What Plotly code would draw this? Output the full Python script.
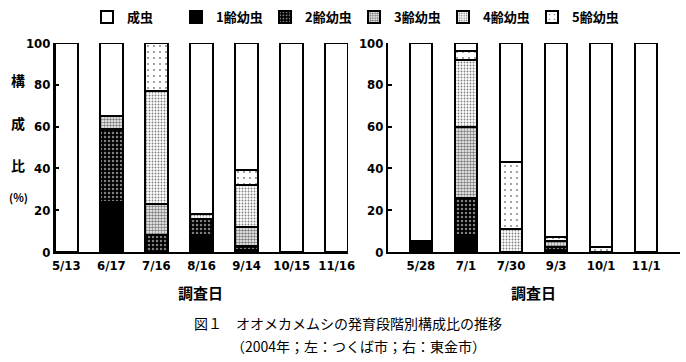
import plotly.graph_objects as go

# ---- data ----
dates_tsukuba = ["5/13", "6/17", "7/16", "8/16", "9/14", "10/15", "11/16"]
t_l1 = [0, 24, 0, 8, 1, 0, 0]
t_l2 = [0, 35, 8, 8, 2, 0, 0]
t_l3 = [0, 6, 15, 0, 9, 0, 0]
t_l4 = [0, 0, 54, 2, 20, 0, 0]
t_l5 = [0, 0, 23, 0, 7, 0, 0]
t_adult = [100, 35, 0, 82, 61, 100, 100]

dates_togane = ["5/28", "7/1", "7/30", "9/3", "10/1", "11/1"]
g_l1 = [5.5, 8, 0, 1, 0, 0]
g_l2 = [0, 18, 0, 1.5, 0, 0]
g_l3 = [0, 34, 0, 3, 0, 0]
g_l4 = [0, 32, 11, 0, 0, 0]
g_l5 = [0, 4, 32, 1.5, 2.5, 0]
g_adult = [94.5, 4, 57, 93, 97.5, 100]

series_names = ["1齢幼虫", "2齢幼虫", "3齢幼虫", "4齢幼虫", "5齢幼虫", "成虫"]
y_ticks = [0, 20, 40, 60, 80, 100]

W, H = 686, 362
ML, MR, MT, MB = 0, 0, 43, 110
PH = H - MT - MB

JP = "Noto Sans CJK JP"
NUM = "Liberation Sans Narrow, DejaVu Sans Condensed, Noto Sans CJK JP"

styles = {
    "1齢幼虫": dict(color="black"),
    "2齢幼虫": dict(color="black", pattern=dict(shape=".", bgcolor="black", fgcolor="white", size=4, solidity=0.3, fillmode="overlay")),
    "3齢幼虫": dict(color="white", pattern=dict(shape=".", bgcolor="white", fgcolor="black", size=3, solidity=0.55, fillmode="overlay")),
    "4齢幼虫": dict(color="white", pattern=dict(shape=".", bgcolor="white", fgcolor="black", size=3, solidity=0.3, fillmode="overlay")),
    "5齢幼虫": dict(color="white", pattern=dict(shape=".", bgcolor="white", fgcolor="black", size=6, solidity=0.08, fillmode="overlay")),
    "成虫": dict(color="white"),
}
ranks = {"成虫": 1, "1齢幼虫": 2, "2齢幼虫": 3, "3齢幼虫": 4, "4齢幼虫": 5, "5齢幼虫": 6}


def nz(v):
    return [x if x else None for x in v]


fig = go.Figure()
left_vals = [t_l1, t_l2, t_l3, t_l4, t_l5, t_adult]
right_vals = [g_l1, g_l2, g_l3, g_l4, g_l5, g_adult]
for name, lv, rv in zip(series_names, left_vals, right_vals):
    m = dict(styles[name])
    m["line"] = dict(color="black", width=2)
    fig.add_trace(go.Bar(x=dates_tsukuba, y=nz(lv), name=name, marker=m,
                         xaxis="x", yaxis="y", legendgroup=name,
                         legendrank=ranks[name], showlegend=True))
    fig.add_trace(go.Bar(x=dates_togane, y=nz(rv), name=name, marker=m,
                         xaxis="x2", yaxis="y2", legendgroup=name,
                         legendrank=ranks[name], showlegend=False))

axis_common = dict(showline=True, linecolor="black", linewidth=2, showgrid=False,
                   zeroline=False)
tickfont = dict(family=NUM, size=13, color="black", weight="bold")

fig.update_layout(
    width=W, height=H,
    margin=dict(l=ML, r=MR, t=MT, b=MB, autoexpand=False),
    paper_bgcolor="white", plot_bgcolor="white",
    barmode="stack", bargap=0.5,
    xaxis=dict(domain=[55 / W, 348 / W], range=[-0.25, 6.25], type="category",
               ticks="", tickfont=tickfont, anchor="y", **axis_common),
    yaxis=dict(domain=[0, 1], range=[0, 100], tickvals=y_ticks, ticks="inside",
               ticklen=4, tickwidth=2, tickcolor="black", tickfont=tickfont,
               anchor="x", **axis_common),
    xaxis2=dict(domain=[388 / W, 680 / W], range=[-0.73, 5.75], type="category",
                ticks="", tickfont=tickfont, anchor="y2", **axis_common),
    yaxis2=dict(domain=[0, 1], range=[0, 100], tickvals=y_ticks, ticks="inside",
                ticklen=4, tickwidth=2, tickcolor="black", tickfont=tickfont,
                anchor="x2", **axis_common),
    legend=dict(orientation="h", x=87 / W, xanchor="left", y=(H - MB - 17) / PH,
                yanchor="middle", font=dict(family=JP, size=13, color="black", weight="bold"),
                entrywidth=44, itemwidth=30, bgcolor="rgba(0,0,0,0)",
                traceorder="normal"),
    showlegend=True,
)


def py(p):
    return (H - MB - p) / PH


ann = []
for ch, p in [("構", 80), ("成", 123), ("比", 165), ("(%)", 197)]:
    ann.append(dict(text=ch, x=18 / W, y=py(p), xref="paper", yref="paper",
                    xanchor="center", yanchor="middle", showarrow=False,
                    font=dict(family=JP, size=14 if ch != "(%)" else 11,
                              color="black", weight="bold")))
for cx in [200, 533]:
    ann.append(dict(text="調査日", x=cx / W, y=py(292), xref="paper", yref="paper",
                    xanchor="center", yanchor="middle", showarrow=False,
                    font=dict(family=JP, size=15, color="black", weight="bold")))
ann.append(dict(text="図１　オオメカメムシの発育段階別構成比の推移", x=348 / W, y=py(323),
                xref="paper", yref="paper", xanchor="center", yanchor="middle",
                showarrow=False, font=dict(family=JP, size=14, color="black")))
ann.append(dict(text="（2004年；左：つくば市；右：東金市）", x=358 / W, y=py(346),
                xref="paper", yref="paper", xanchor="center", yanchor="middle",
                showarrow=False, font=dict(family=JP, size=14, color="black")))
fig.update_layout(annotations=ann)

fig.write_html("out.html")
